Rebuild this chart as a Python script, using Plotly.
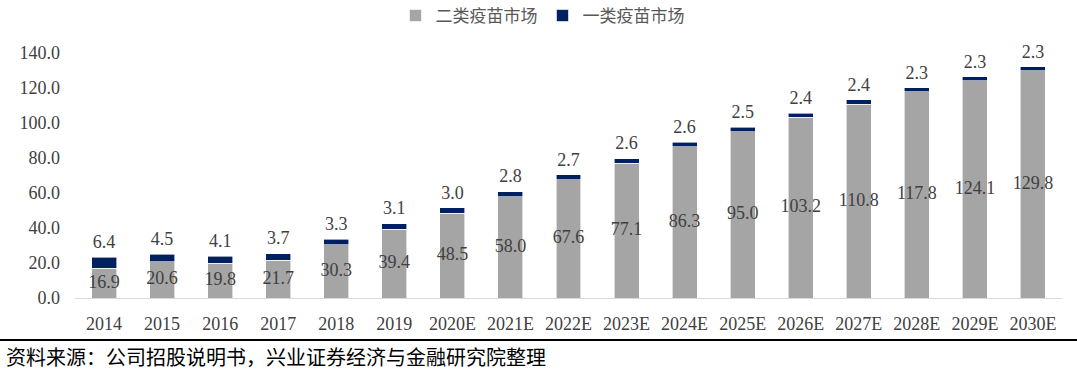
import plotly.graph_objects as go

categories = ["2014", "2015", "2016", "2017", "2018", "2019", "2020E", "2021E", "2022E",
              "2023E", "2024E", "2025E", "2026E", "2027E", "2028E", "2029E", "2030E"]
class2_values = [16.9, 20.6, 19.8, 21.7, 30.3, 39.4, 48.5, 58.0, 67.6, 77.1, 86.3, 95.0,
                 103.2, 110.8, 117.8, 124.1, 129.8]
class1_values = [6.4, 4.5, 4.1, 3.7, 3.3, 3.1, 3.0, 2.8, 2.7, 2.6, 2.6, 2.5, 2.4, 2.4,
                 2.3, 2.3, 2.3]
y_ticks = [0, 20, 40, 60, 80, 100, 120, 140]

GRAY = "#A5A5A5"
NAVY = "#002060"
TXT = "#404040"
NUMFONT = "Liberation Serif"
CJK = "Noto Sans CJK SC"
FS = 18

# desired plot area in window pixels
L, T, PW, PH = 75, 53, 987, 245
W, H = 1077, 376

fig = go.Figure()
fig.add_trace(go.Bar(name="二类疫苗市场", x=categories, y=class2_values,
                     marker=dict(color=GRAY, line=dict(color="#FFFFFF", width=0.6))))
fig.add_trace(go.Bar(name="一类疫苗市场", x=categories, y=class1_values,
                     marker=dict(color=NAVY, line=dict(color="#FFFFFF", width=0.6))))

fig.add_trace(go.Scatter(x=categories, y=[v / 2 for v in class2_values], mode="text",
                         text=[f"{v:.1f}" for v in class2_values], textposition="middle center",
                         textfont=dict(family=NUMFONT, size=FS, color=TXT),
                         showlegend=False, hoverinfo="skip", cliponaxis=False))
totals = [a + b for a, b in zip(class2_values, class1_values)]
fig.add_trace(go.Scatter(x=categories, y=totals, mode="markers+text",
                         marker=dict(size=6, color="rgba(0,0,0,0)"),
                         text=[f"{v:.1f}" for v in class1_values], textposition="top center",
                         textfont=dict(family=NUMFONT, size=FS, color=TXT),
                         showlegend=False, hoverinfo="skip", cliponaxis=False))

fig.update_layout(
    barmode="stack",
    bargap=0.57,
    width=W, height=H,
    margin=dict(l=L, r=W - L - PW, t=T, b=H - T - PH, autoexpand=False),
    paper_bgcolor="white", plot_bgcolor="white",
    font=dict(family=NUMFONT, size=FS, color=TXT),
    legend=dict(orientation="h", x=0.5 - 26 / PW, xanchor="center", yref="paper",
                y=1 + (T + 2) / PH, yanchor="top",
                font=dict(family=CJK, size=17, color="#595959"),
                traceorder="normal", itemwidth=30),
    showlegend=True,
)
fig.update_xaxes(range=[-0.5, len(categories) - 0.5], showline=True, linecolor="#D9D9D9",
                 linewidth=1, ticks="", showgrid=False, ticklabelstandoff=9, automargin=False,
                 tickfont=dict(family=NUMFONT, size=FS, color=TXT))
fig.update_yaxes(range=[0, 140], tickvals=y_ticks, tickformat=".1f", showgrid=False,
                 showline=False, zeroline=False, ticks="", ticklabelstandoff=14,
                 automargin=False,
                 tickfont=dict(family=NUMFONT, size=FS, color=TXT))

fig.add_shape(type="line", xref="paper", yref="paper", x0=-L / PW,
              x1=1 + 15 / PW, y0=-42 / PH, y1=-42 / PH, line=dict(color="#000000", width=2))
fig.add_annotation(text="资料来源：公司招股说明书，兴业证券经济与金融研究院整理",
                   xref="paper", yref="paper", x=-(L - 4) / PW, y=-58 / PH,
                   xanchor="left", yanchor="middle", showarrow=False,
                   font=dict(family=CJK, size=20, color="#000000"))

fig.write_html("out.html", config={"displayModeBar": False},
               post_script="document.body.style.margin='0px';")
